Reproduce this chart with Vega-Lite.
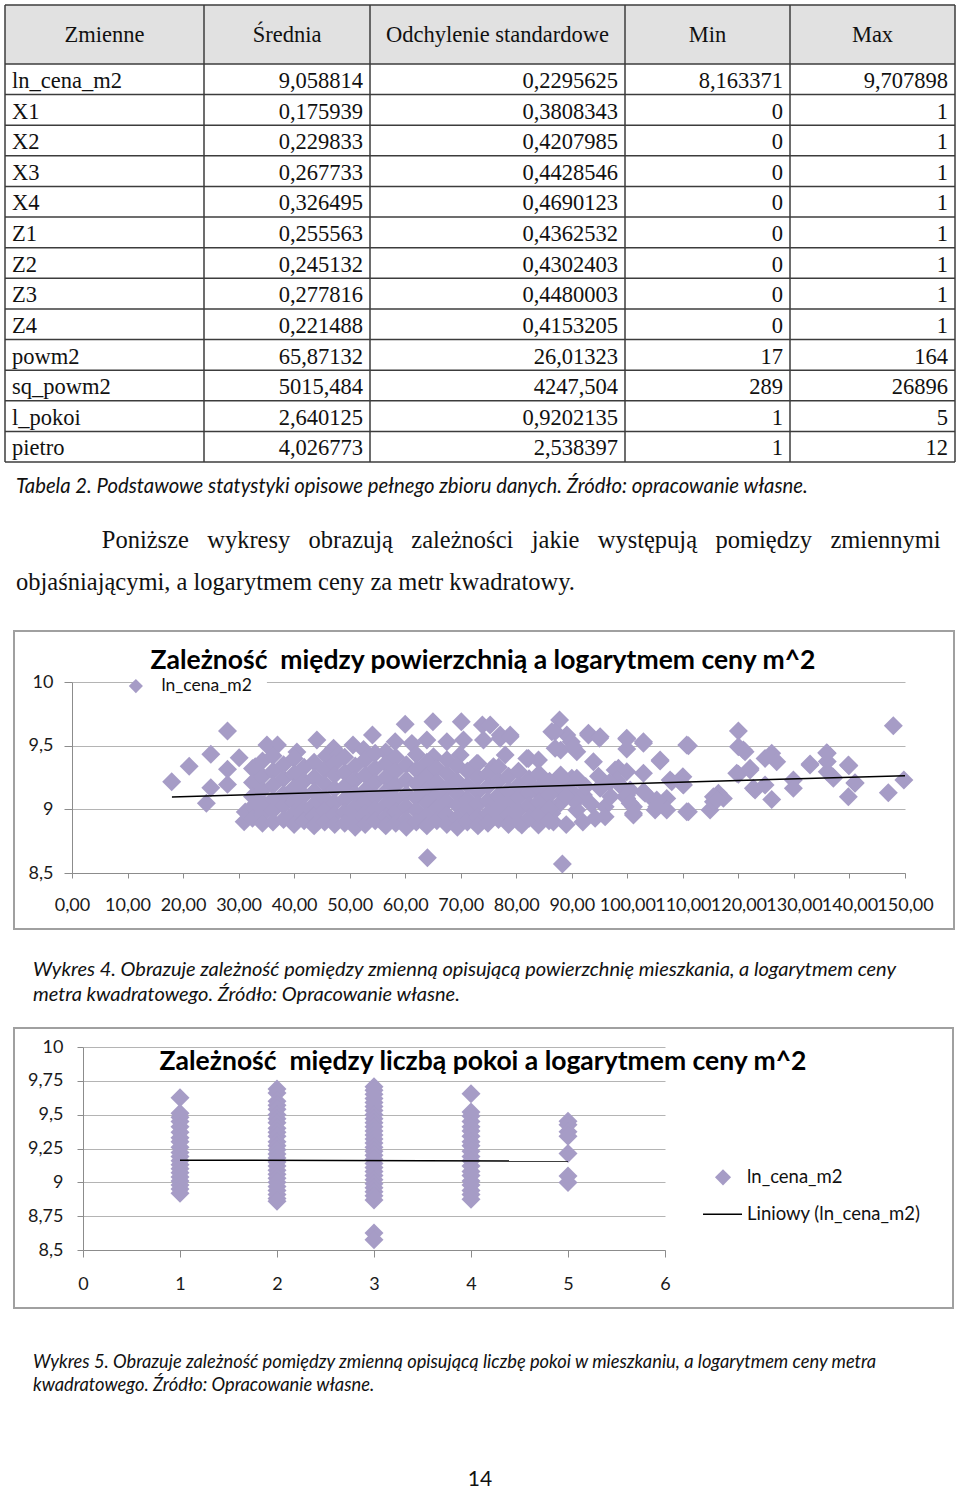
{
  "$schema": "https://vega.github.io/schema/vega-lite/v6.json",
  "background": "white",
  "padding": {"left": 4, "top": 4, "right": 0, "bottom": 0},
  "autosize": {"type": "pad"},
  "bounds": "flush",
  "spacing": 99,
  "config": {"view": {"stroke": null}},
  "datasets": {
    "cells": [
      {"row": 0, "col": 1, "t": "Zmienne"}, {"row": 0, "col": 2, "t": "Średnia"}, {"row": 0, "col": 3, "t": "Odchylenie standardowe"}, {"row": 0, "col": 4, "t": "Min"}, {"row": 0, "col": 5, "t": "Max"},
      {"row": 1, "col": 1, "t": "ln_cena_m2"}, {"row": 1, "col": 2, "t": "9,058814"}, {"row": 1, "col": 3, "t": "0,2295625"}, {"row": 1, "col": 4, "t": "8,163371"}, {"row": 1, "col": 5, "t": "9,707898"},
      {"row": 2, "col": 1, "t": "X1"}, {"row": 2, "col": 2, "t": "0,175939"}, {"row": 2, "col": 3, "t": "0,3808343"}, {"row": 2, "col": 4, "t": "0"}, {"row": 2, "col": 5, "t": "1"},
      {"row": 3, "col": 1, "t": "X2"}, {"row": 3, "col": 2, "t": "0,229833"}, {"row": 3, "col": 3, "t": "0,4207985"}, {"row": 3, "col": 4, "t": "0"}, {"row": 3, "col": 5, "t": "1"},
      {"row": 4, "col": 1, "t": "X3"}, {"row": 4, "col": 2, "t": "0,267733"}, {"row": 4, "col": 3, "t": "0,4428546"}, {"row": 4, "col": 4, "t": "0"}, {"row": 4, "col": 5, "t": "1"},
      {"row": 5, "col": 1, "t": "X4"}, {"row": 5, "col": 2, "t": "0,326495"}, {"row": 5, "col": 3, "t": "0,4690123"}, {"row": 5, "col": 4, "t": "0"}, {"row": 5, "col": 5, "t": "1"},
      {"row": 6, "col": 1, "t": "Z1"}, {"row": 6, "col": 2, "t": "0,255563"}, {"row": 6, "col": 3, "t": "0,4362532"}, {"row": 6, "col": 4, "t": "0"}, {"row": 6, "col": 5, "t": "1"},
      {"row": 7, "col": 1, "t": "Z2"}, {"row": 7, "col": 2, "t": "0,245132"}, {"row": 7, "col": 3, "t": "0,4302403"}, {"row": 7, "col": 4, "t": "0"}, {"row": 7, "col": 5, "t": "1"},
      {"row": 8, "col": 1, "t": "Z3"}, {"row": 8, "col": 2, "t": "0,277816"}, {"row": 8, "col": 3, "t": "0,4480003"}, {"row": 8, "col": 4, "t": "0"}, {"row": 8, "col": 5, "t": "1"},
      {"row": 9, "col": 1, "t": "Z4"}, {"row": 9, "col": 2, "t": "0,221488"}, {"row": 9, "col": 3, "t": "0,4153205"}, {"row": 9, "col": 4, "t": "0"}, {"row": 9, "col": 5, "t": "1"},
      {"row": 10, "col": 1, "t": "powm2"}, {"row": 10, "col": 2, "t": "65,87132"}, {"row": 10, "col": 3, "t": "26,01323"}, {"row": 10, "col": 4, "t": "17"}, {"row": 10, "col": 5, "t": "164"},
      {"row": 11, "col": 1, "t": "sq_powm2"}, {"row": 11, "col": 2, "t": "5015,484"}, {"row": 11, "col": 3, "t": "4247,504"}, {"row": 11, "col": 4, "t": "289"}, {"row": 11, "col": 5, "t": "26896"},
      {"row": 12, "col": 1, "t": "l_pokoi"}, {"row": 12, "col": 2, "t": "2,640125"}, {"row": 12, "col": 3, "t": "0,9202135"}, {"row": 12, "col": 4, "t": "1"}, {"row": 12, "col": 5, "t": "5"},
      {"row": 13, "col": 1, "t": "pietro"}, {"row": 13, "col": 2, "t": "4,026773"}, {"row": 13, "col": 3, "t": "2,538397"}, {"row": 13, "col": 4, "t": "1"}, {"row": 13, "col": 5, "t": "12"}
    ],
    "chart1": [
      {"powm2": 17.95, "ln_cena_m2": 9.217}, {"powm2": 21.1, "ln_cena_m2": 9.338}, {"powm2": 28, "ln_cena_m2": 9.615}, {"powm2": 25, "ln_cena_m2": 9.432}, {"powm2": 25, "ln_cena_m2": 9.17}, {"powm2": 24.2, "ln_cena_m2": 9.047}, {"powm2": 28, "ln_cena_m2": 9.314}, {"powm2": 28, "ln_cena_m2": 9.196}, {"powm2": 30.1, "ln_cena_m2": 9.405}, {"powm2": 31, "ln_cena_m2": 8.903}, {"powm2": 31.2, "ln_cena_m2": 8.98}, {"powm2": 33, "ln_cena_m2": 9.335}, {"powm2": 35.1, "ln_cena_m2": 9.505}, {"powm2": 37, "ln_cena_m2": 9.505}, {"powm2": 44.1, "ln_cena_m2": 9.544}, {"powm2": 47.1, "ln_cena_m2": 9.479}, {"powm2": 50.6, "ln_cena_m2": 9.505}, {"powm2": 54.1, "ln_cena_m2": 9.584}, {"powm2": 60, "ln_cena_m2": 9.668}, {"powm2": 65, "ln_cena_m2": 9.688}, {"powm2": 58.2, "ln_cena_m2": 9.531}, {"powm2": 70.1, "ln_cena_m2": 9.688}, {"powm2": 63.9, "ln_cena_m2": 9.544}, {"powm2": 64, "ln_cena_m2": 8.62}, {"powm2": 73.9, "ln_cena_m2": 9.662}, {"powm2": 77.1, "ln_cena_m2": 9.584}, {"powm2": 78.9, "ln_cena_m2": 9.584}, {"powm2": 86.4, "ln_cena_m2": 9.61}, {"powm2": 61.2, "ln_cena_m2": 9.518}, {"powm2": 67.5, "ln_cena_m2": 9.531}, {"powm2": 70.5, "ln_cena_m2": 9.544}, {"powm2": 74.1, "ln_cena_m2": 9.544}, {"powm2": 65.1, "ln_cena_m2": 9.413}, {"powm2": 69.9, "ln_cena_m2": 9.427}, {"powm2": 72.9, "ln_cena_m2": 9.361}, {"powm2": 75.9, "ln_cena_m2": 9.335}, {"powm2": 78, "ln_cena_m2": 9.427}, {"powm2": 82.2, "ln_cena_m2": 9.4}, {"powm2": 84, "ln_cena_m2": 9.387}, {"powm2": 75.3, "ln_cena_m2": 9.662}, {"powm2": 77.1, "ln_cena_m2": 9.558}, {"powm2": 78.9, "ln_cena_m2": 9.57}, {"powm2": 81.9, "ln_cena_m2": 9.4}, {"powm2": 88.3, "ln_cena_m2": 8.57}, {"powm2": 87.8, "ln_cena_m2": 9.701}, {"powm2": 89.1, "ln_cena_m2": 9.584}, {"powm2": 89.9, "ln_cena_m2": 9.53}, {"powm2": 90.9, "ln_cena_m2": 9.452}, {"powm2": 88, "ln_cena_m2": 9.465}, {"powm2": 88, "ln_cena_m2": 9.27}, {"powm2": 90, "ln_cena_m2": 9.244}, {"powm2": 91.5, "ln_cena_m2": 9.099}, {"powm2": 90.9, "ln_cena_m2": 8.995}, {"powm2": 87.9, "ln_cena_m2": 9.047}, {"powm2": 84, "ln_cena_m2": 8.877}, {"powm2": 84, "ln_cena_m2": 8.99}, {"powm2": 81, "ln_cena_m2": 8.877}, {"powm2": 93, "ln_cena_m2": 9.584}, {"powm2": 95, "ln_cena_m2": 9.558}, {"powm2": 93.9, "ln_cena_m2": 9.374}, {"powm2": 95.1, "ln_cena_m2": 9.165}, {"powm2": 96, "ln_cena_m2": 9.02}, {"powm2": 96, "ln_cena_m2": 8.942}, {"powm2": 99.9, "ln_cena_m2": 9.552}, {"powm2": 99.9, "ln_cena_m2": 9.474}, {"powm2": 98.4, "ln_cena_m2": 9.322}, {"powm2": 98.7, "ln_cena_m2": 9.19}, {"powm2": 99.9, "ln_cena_m2": 9.086}, {"powm2": 101.1, "ln_cena_m2": 9.02}, {"powm2": 101.1, "ln_cena_m2": 8.955}, {"powm2": 102.9, "ln_cena_m2": 9.518}, {"powm2": 102.9, "ln_cena_m2": 9.283}, {"powm2": 102.9, "ln_cena_m2": 9.139}, {"powm2": 105.9, "ln_cena_m2": 9.379}, {"powm2": 105, "ln_cena_m2": 9.06}, {"powm2": 105, "ln_cena_m2": 8.995}, {"powm2": 107.1, "ln_cena_m2": 9.086}, {"powm2": 107.1, "ln_cena_m2": 8.995}, {"powm2": 108, "ln_cena_m2": 9.217}, {"powm2": 110, "ln_cena_m2": 9.256}, {"powm2": 110, "ln_cena_m2": 9.196}, {"powm2": 111, "ln_cena_m2": 9.5}, {"powm2": 111, "ln_cena_m2": 8.981}, {"powm2": 114.9, "ln_cena_m2": 8.994}, {"powm2": 115.5, "ln_cena_m2": 9.06}, {"powm2": 116.4, "ln_cena_m2": 9.126}, {"powm2": 117.3, "ln_cena_m2": 9.086}, {"powm2": 120, "ln_cena_m2": 9.615}, {"powm2": 120, "ln_cena_m2": 9.275}, {"powm2": 120.9, "ln_cena_m2": 9.466}, {"powm2": 122.1, "ln_cena_m2": 9.322}, {"powm2": 123, "ln_cena_m2": 9.152}, {"powm2": 124.8, "ln_cena_m2": 9.4}, {"powm2": 126, "ln_cena_m2": 9.44}, {"powm2": 126.9, "ln_cena_m2": 9.374}, {"powm2": 126, "ln_cena_m2": 9.078}, {"powm2": 129.9, "ln_cena_m2": 9.23}, {"powm2": 129.9, "ln_cena_m2": 9.165}, {"powm2": 132.9, "ln_cena_m2": 9.348}, {"powm2": 136, "ln_cena_m2": 9.44}, {"powm2": 136, "ln_cena_m2": 9.375}, {"powm2": 136, "ln_cena_m2": 9.295}, {"powm2": 137.1, "ln_cena_m2": 9.244}, {"powm2": 139.8, "ln_cena_m2": 9.348}, {"powm2": 141, "ln_cena_m2": 9.204}, {"powm2": 139.8, "ln_cena_m2": 9.099}, {"powm2": 147, "ln_cena_m2": 9.13}, {"powm2": 147.9, "ln_cena_m2": 9.657}, {"powm2": 149.8, "ln_cena_m2": 9.23},
      {"powm2": 87, "ln_cena_m2": 9.61}, {"powm2": 87, "ln_cena_m2": 9.479}, {"powm2": 90.3, "ln_cena_m2": 9.492}, {"powm2": 93, "ln_cena_m2": 9.597}, {"powm2": 95.1, "ln_cena_m2": 9.57}, {"powm2": 99.9, "ln_cena_m2": 9.558}, {"powm2": 102.9, "ln_cena_m2": 9.531}, {"powm2": 105.9, "ln_cena_m2": 9.387}, {"powm2": 110.7, "ln_cena_m2": 9.505}, {"powm2": 120, "ln_cena_m2": 9.492}, {"powm2": 121.2, "ln_cena_m2": 9.452}, {"powm2": 97.8, "ln_cena_m2": 9.309}, {"powm2": 99.9, "ln_cena_m2": 9.296}, {"powm2": 98.1, "ln_cena_m2": 9.23}, {"powm2": 99, "ln_cena_m2": 9.178}, {"powm2": 100.5, "ln_cena_m2": 9.152}, {"powm2": 95.1, "ln_cena_m2": 9.178}, {"powm2": 90.9, "ln_cena_m2": 9.244}, {"powm2": 88.5, "ln_cena_m2": 9.23}, {"powm2": 87.3, "ln_cena_m2": 9.165}, {"powm2": 89.7, "ln_cena_m2": 9.152}, {"powm2": 92.1, "ln_cena_m2": 9.112}, {"powm2": 90.3, "ln_cena_m2": 9.073}, {"powm2": 86.4, "ln_cena_m2": 8.969}, {"powm2": 99.9, "ln_cena_m2": 9.112}, {"powm2": 100.5, "ln_cena_m2": 9.047}, {"powm2": 101.1, "ln_cena_m2": 8.969}, {"powm2": 103.2, "ln_cena_m2": 9.126}, {"powm2": 105.3, "ln_cena_m2": 9.073}, {"powm2": 105.3, "ln_cena_m2": 9.02}, {"powm2": 107.7, "ln_cena_m2": 9.23}, {"powm2": 110.1, "ln_cena_m2": 9.191}, {"powm2": 110.7, "ln_cena_m2": 8.981}, {"powm2": 115.5, "ln_cena_m2": 9.099}, {"powm2": 116.1, "ln_cena_m2": 9.073}, {"powm2": 119.7, "ln_cena_m2": 9.283}, {"powm2": 122.1, "ln_cena_m2": 9.309}, {"powm2": 122.7, "ln_cena_m2": 9.165}, {"powm2": 124.8, "ln_cena_m2": 9.191}, {"powm2": 132.9, "ln_cena_m2": 9.356}, {"powm2": 135.9, "ln_cena_m2": 9.445}, {"powm2": 137, "ln_cena_m2": 9.256}, {"powm2": 139.9, "ln_cena_m2": 9.343}, {"powm2": 141, "ln_cena_m2": 9.209},
      {"powm2": 83.5, "ln_cena_m2": 9.15}, {"powm2": 85.5, "ln_cena_m2": 9.05}, {"powm2": 86, "ln_cena_m2": 9.22}, {"powm2": 88.8, "ln_cena_m2": 9.1}, {"powm2": 92.5, "ln_cena_m2": 9.18}, {"powm2": 93.5, "ln_cena_m2": 9.04}, {"powm2": 94.2, "ln_cena_m2": 8.93}, {"powm2": 92, "ln_cena_m2": 8.9}, {"powm2": 89, "ln_cena_m2": 8.88}, {"powm2": 86.7, "ln_cena_m2": 8.9}, {"powm2": 94.8, "ln_cena_m2": 9.26}, {"powm2": 97, "ln_cena_m2": 9.1}, {"powm2": 96.8, "ln_cena_m2": 9.21},
      {"powm2": 40.5, "ln_cena_m2": 9.45}, {"powm2": 45.8, "ln_cena_m2": 9.42}, {"powm2": 52.5, "ln_cena_m2": 9.47}, {"powm2": 56.5, "ln_cena_m2": 9.45}, {"powm2": 48, "ln_cena_m2": 9.43},
      {"powm2": 32.5, "ln_cena_m2": 9.32}, {"powm2": 32.5, "ln_cena_m2": 9.21}, {"powm2": 32.5, "ln_cena_m2": 9.1}, {"powm2": 32.5, "ln_cena_m2": 9.02}, {"powm2": 32.5, "ln_cena_m2": 8.93},
      {"powm2": 34.3, "ln_cena_m2": 9.38}, {"powm2": 34.3, "ln_cena_m2": 9.26}, {"powm2": 34.3, "ln_cena_m2": 9.15}, {"powm2": 34.3, "ln_cena_m2": 9.05}, {"powm2": 34.3, "ln_cena_m2": 8.96}, {"powm2": 34.3, "ln_cena_m2": 8.89},
      {"powm2": 36.2, "ln_cena_m2": 9.42}, {"powm2": 36.2, "ln_cena_m2": 9.3}, {"powm2": 36.2, "ln_cena_m2": 9.19}, {"powm2": 36.2, "ln_cena_m2": 9.08}, {"powm2": 36.2, "ln_cena_m2": 8.99}, {"powm2": 36.2, "ln_cena_m2": 8.9},
      {"powm2": 38.1, "ln_cena_m2": 9.35}, {"powm2": 38.1, "ln_cena_m2": 9.24}, {"powm2": 38.1, "ln_cena_m2": 9.12}, {"powm2": 38.1, "ln_cena_m2": 9.03}, {"powm2": 38.1, "ln_cena_m2": 8.92},
      {"powm2": 40, "ln_cena_m2": 9.4}, {"powm2": 40, "ln_cena_m2": 9.28}, {"powm2": 40, "ln_cena_m2": 9.17}, {"powm2": 40, "ln_cena_m2": 9.06}, {"powm2": 40, "ln_cena_m2": 8.97}, {"powm2": 40, "ln_cena_m2": 8.88},
      {"powm2": 41.8, "ln_cena_m2": 9.33}, {"powm2": 41.8, "ln_cena_m2": 9.22}, {"powm2": 41.8, "ln_cena_m2": 9.11}, {"powm2": 41.8, "ln_cena_m2": 9}, {"powm2": 41.8, "ln_cena_m2": 8.91},
      {"powm2": 43.6, "ln_cena_m2": 9.37}, {"powm2": 43.6, "ln_cena_m2": 9.25}, {"powm2": 43.6, "ln_cena_m2": 9.14}, {"powm2": 43.6, "ln_cena_m2": 9.04}, {"powm2": 43.6, "ln_cena_m2": 8.95}, {"powm2": 43.6, "ln_cena_m2": 8.87},
      {"powm2": 45.5, "ln_cena_m2": 9.31}, {"powm2": 45.5, "ln_cena_m2": 9.2}, {"powm2": 45.5, "ln_cena_m2": 9.09}, {"powm2": 45.5, "ln_cena_m2": 8.99}, {"powm2": 45.5, "ln_cena_m2": 8.9},
      {"powm2": 47.3, "ln_cena_m2": 9.36}, {"powm2": 47.3, "ln_cena_m2": 9.27}, {"powm2": 47.3, "ln_cena_m2": 9.16}, {"powm2": 47.3, "ln_cena_m2": 9.05}, {"powm2": 47.3, "ln_cena_m2": 8.96}, {"powm2": 47.3, "ln_cena_m2": 8.88},
      {"powm2": 49.1, "ln_cena_m2": 9.41}, {"powm2": 49.1, "ln_cena_m2": 9.29}, {"powm2": 49.1, "ln_cena_m2": 9.18}, {"powm2": 49.1, "ln_cena_m2": 9.08}, {"powm2": 49.1, "ln_cena_m2": 8.98}, {"powm2": 49.1, "ln_cena_m2": 8.89},
      {"powm2": 51, "ln_cena_m2": 9.34}, {"powm2": 51, "ln_cena_m2": 9.23}, {"powm2": 51, "ln_cena_m2": 9.12}, {"powm2": 51, "ln_cena_m2": 9.02}, {"powm2": 51, "ln_cena_m2": 8.93}, {"powm2": 51, "ln_cena_m2": 8.86},
      {"powm2": 52.8, "ln_cena_m2": 9.39}, {"powm2": 52.8, "ln_cena_m2": 9.27}, {"powm2": 52.8, "ln_cena_m2": 9.15}, {"powm2": 52.8, "ln_cena_m2": 9.06}, {"powm2": 52.8, "ln_cena_m2": 8.97}, {"powm2": 52.8, "ln_cena_m2": 8.88},
      {"powm2": 54.6, "ln_cena_m2": 9.44}, {"powm2": 54.6, "ln_cena_m2": 9.32}, {"powm2": 54.6, "ln_cena_m2": 9.21}, {"powm2": 54.6, "ln_cena_m2": 9.1}, {"powm2": 54.6, "ln_cena_m2": 9}, {"powm2": 54.6, "ln_cena_m2": 8.91},
      {"powm2": 56.5, "ln_cena_m2": 9.36}, {"powm2": 56.5, "ln_cena_m2": 9.25}, {"powm2": 56.5, "ln_cena_m2": 9.14}, {"powm2": 56.5, "ln_cena_m2": 9.04}, {"powm2": 56.5, "ln_cena_m2": 8.94}, {"powm2": 56.5, "ln_cena_m2": 8.87},
      {"powm2": 58.3, "ln_cena_m2": 9.41}, {"powm2": 58.3, "ln_cena_m2": 9.3}, {"powm2": 58.3, "ln_cena_m2": 9.19}, {"powm2": 58.3, "ln_cena_m2": 9.08}, {"powm2": 58.3, "ln_cena_m2": 8.98}, {"powm2": 58.3, "ln_cena_m2": 8.89},
      {"powm2": 60.2, "ln_cena_m2": 9.35}, {"powm2": 60.2, "ln_cena_m2": 9.23}, {"powm2": 60.2, "ln_cena_m2": 9.12}, {"powm2": 60.2, "ln_cena_m2": 9.02}, {"powm2": 60.2, "ln_cena_m2": 8.92}, {"powm2": 60.2, "ln_cena_m2": 8.86},
      {"powm2": 62, "ln_cena_m2": 9.43}, {"powm2": 62, "ln_cena_m2": 9.31}, {"powm2": 62, "ln_cena_m2": 9.2}, {"powm2": 62, "ln_cena_m2": 9.09}, {"powm2": 62, "ln_cena_m2": 8.99}, {"powm2": 62, "ln_cena_m2": 8.9},
      {"powm2": 63.9, "ln_cena_m2": 9.37}, {"powm2": 63.9, "ln_cena_m2": 9.26}, {"powm2": 63.9, "ln_cena_m2": 9.15}, {"powm2": 63.9, "ln_cena_m2": 9.05}, {"powm2": 63.9, "ln_cena_m2": 8.95}, {"powm2": 63.9, "ln_cena_m2": 8.87},
      {"powm2": 65.7, "ln_cena_m2": 9.32}, {"powm2": 65.7, "ln_cena_m2": 9.21}, {"powm2": 65.7, "ln_cena_m2": 9.11}, {"powm2": 65.7, "ln_cena_m2": 9.01}, {"powm2": 65.7, "ln_cena_m2": 8.91},
      {"powm2": 67.5, "ln_cena_m2": 9.39}, {"powm2": 67.5, "ln_cena_m2": 9.28}, {"powm2": 67.5, "ln_cena_m2": 9.17}, {"powm2": 67.5, "ln_cena_m2": 9.06}, {"powm2": 67.5, "ln_cena_m2": 8.96}, {"powm2": 67.5, "ln_cena_m2": 8.88},
      {"powm2": 69.4, "ln_cena_m2": 9.34}, {"powm2": 69.4, "ln_cena_m2": 9.22}, {"powm2": 69.4, "ln_cena_m2": 9.12}, {"powm2": 69.4, "ln_cena_m2": 9.03}, {"powm2": 69.4, "ln_cena_m2": 8.93}, {"powm2": 69.4, "ln_cena_m2": 8.86},
      {"powm2": 71.2, "ln_cena_m2": 9.3}, {"powm2": 71.2, "ln_cena_m2": 9.19}, {"powm2": 71.2, "ln_cena_m2": 9.08}, {"powm2": 71.2, "ln_cena_m2": 8.99}, {"powm2": 71.2, "ln_cena_m2": 8.9},
      {"powm2": 73.1, "ln_cena_m2": 9.36}, {"powm2": 73.1, "ln_cena_m2": 9.25}, {"powm2": 73.1, "ln_cena_m2": 9.14}, {"powm2": 73.1, "ln_cena_m2": 9.04}, {"powm2": 73.1, "ln_cena_m2": 8.94}, {"powm2": 73.1, "ln_cena_m2": 8.87},
      {"powm2": 74.9, "ln_cena_m2": 9.28}, {"powm2": 74.9, "ln_cena_m2": 9.18}, {"powm2": 74.9, "ln_cena_m2": 9.07}, {"powm2": 74.9, "ln_cena_m2": 8.97}, {"powm2": 74.9, "ln_cena_m2": 8.89},
      {"powm2": 76.8, "ln_cena_m2": 9.33}, {"powm2": 76.8, "ln_cena_m2": 9.22}, {"powm2": 76.8, "ln_cena_m2": 9.11}, {"powm2": 76.8, "ln_cena_m2": 9.01}, {"powm2": 76.8, "ln_cena_m2": 8.92},
      {"powm2": 78.6, "ln_cena_m2": 9.26}, {"powm2": 78.6, "ln_cena_m2": 9.15}, {"powm2": 78.6, "ln_cena_m2": 9.05}, {"powm2": 78.6, "ln_cena_m2": 8.95}, {"powm2": 78.6, "ln_cena_m2": 8.88},
      {"powm2": 80.4, "ln_cena_m2": 9.3}, {"powm2": 80.4, "ln_cena_m2": 9.19}, {"powm2": 80.4, "ln_cena_m2": 9.09}, {"powm2": 80.4, "ln_cena_m2": 8.99}, {"powm2": 80.4, "ln_cena_m2": 8.9},
      {"powm2": 82.3, "ln_cena_m2": 9.24}, {"powm2": 82.3, "ln_cena_m2": 9.13}, {"powm2": 82.3, "ln_cena_m2": 9.03}, {"powm2": 82.3, "ln_cena_m2": 8.93},
      {"powm2": 84.1, "ln_cena_m2": 9.28}, {"powm2": 84.1, "ln_cena_m2": 9.17}, {"powm2": 84.1, "ln_cena_m2": 9.06}, {"powm2": 84.1, "ln_cena_m2": 8.96},
      {"powm2": 85.9, "ln_cena_m2": 9.21}, {"powm2": 85.9, "ln_cena_m2": 9.11}, {"powm2": 85.9, "ln_cena_m2": 9}, {"powm2": 85.9, "ln_cena_m2": 8.91}
    ],
    "trend1": [{"powm2": 18, "ln_cena_m2": 9.097}, {"powm2": 150, "ln_cena_m2": 9.264}],
    "chart2": [
      {"l_pokoi": 1, "ln_cena_m2": 9.625}, {"l_pokoi": 1, "ln_cena_m2": 9.51}, {"l_pokoi": 1, "ln_cena_m2": 9.48}, {"l_pokoi": 1, "ln_cena_m2": 9.45}, {"l_pokoi": 1, "ln_cena_m2": 9.41}, {"l_pokoi": 1, "ln_cena_m2": 9.37}, {"l_pokoi": 1, "ln_cena_m2": 9.33}, {"l_pokoi": 1, "ln_cena_m2": 9.3}, {"l_pokoi": 1, "ln_cena_m2": 9.26}, {"l_pokoi": 1, "ln_cena_m2": 9.22}, {"l_pokoi": 1, "ln_cena_m2": 9.19}, {"l_pokoi": 1, "ln_cena_m2": 9.16}, {"l_pokoi": 1, "ln_cena_m2": 9.13}, {"l_pokoi": 1, "ln_cena_m2": 9.1}, {"l_pokoi": 1, "ln_cena_m2": 9.07}, {"l_pokoi": 1, "ln_cena_m2": 9.04}, {"l_pokoi": 1, "ln_cena_m2": 9.01}, {"l_pokoi": 1, "ln_cena_m2": 8.98}, {"l_pokoi": 1, "ln_cena_m2": 8.95}, {"l_pokoi": 1, "ln_cena_m2": 8.92},
      {"l_pokoi": 2, "ln_cena_m2": 9.69}, {"l_pokoi": 2, "ln_cena_m2": 9.66}, {"l_pokoi": 2, "ln_cena_m2": 9.6}, {"l_pokoi": 2, "ln_cena_m2": 9.57}, {"l_pokoi": 2, "ln_cena_m2": 9.54}, {"l_pokoi": 2, "ln_cena_m2": 9.5}, {"l_pokoi": 2, "ln_cena_m2": 9.47}, {"l_pokoi": 2, "ln_cena_m2": 9.44}, {"l_pokoi": 2, "ln_cena_m2": 9.4}, {"l_pokoi": 2, "ln_cena_m2": 9.37}, {"l_pokoi": 2, "ln_cena_m2": 9.34}, {"l_pokoi": 2, "ln_cena_m2": 9.3}, {"l_pokoi": 2, "ln_cena_m2": 9.27}, {"l_pokoi": 2, "ln_cena_m2": 9.24}, {"l_pokoi": 2, "ln_cena_m2": 9.21}, {"l_pokoi": 2, "ln_cena_m2": 9.18}, {"l_pokoi": 2, "ln_cena_m2": 9.15}, {"l_pokoi": 2, "ln_cena_m2": 9.12}, {"l_pokoi": 2, "ln_cena_m2": 9.09}, {"l_pokoi": 2, "ln_cena_m2": 9.06}, {"l_pokoi": 2, "ln_cena_m2": 9.03}, {"l_pokoi": 2, "ln_cena_m2": 9}, {"l_pokoi": 2, "ln_cena_m2": 8.97}, {"l_pokoi": 2, "ln_cena_m2": 8.94}, {"l_pokoi": 2, "ln_cena_m2": 8.91}, {"l_pokoi": 2, "ln_cena_m2": 8.88}, {"l_pokoi": 2, "ln_cena_m2": 8.86},
      {"l_pokoi": 3, "ln_cena_m2": 9.706}, {"l_pokoi": 3, "ln_cena_m2": 9.68}, {"l_pokoi": 3, "ln_cena_m2": 9.65}, {"l_pokoi": 3, "ln_cena_m2": 9.62}, {"l_pokoi": 3, "ln_cena_m2": 9.59}, {"l_pokoi": 3, "ln_cena_m2": 9.56}, {"l_pokoi": 3, "ln_cena_m2": 9.53}, {"l_pokoi": 3, "ln_cena_m2": 9.5}, {"l_pokoi": 3, "ln_cena_m2": 9.47}, {"l_pokoi": 3, "ln_cena_m2": 9.44}, {"l_pokoi": 3, "ln_cena_m2": 9.41}, {"l_pokoi": 3, "ln_cena_m2": 9.38}, {"l_pokoi": 3, "ln_cena_m2": 9.35}, {"l_pokoi": 3, "ln_cena_m2": 9.32}, {"l_pokoi": 3, "ln_cena_m2": 9.29}, {"l_pokoi": 3, "ln_cena_m2": 9.26}, {"l_pokoi": 3, "ln_cena_m2": 9.23}, {"l_pokoi": 3, "ln_cena_m2": 9.2}, {"l_pokoi": 3, "ln_cena_m2": 9.17}, {"l_pokoi": 3, "ln_cena_m2": 9.14}, {"l_pokoi": 3, "ln_cena_m2": 9.11}, {"l_pokoi": 3, "ln_cena_m2": 9.08}, {"l_pokoi": 3, "ln_cena_m2": 9.05}, {"l_pokoi": 3, "ln_cena_m2": 9.02}, {"l_pokoi": 3, "ln_cena_m2": 8.99}, {"l_pokoi": 3, "ln_cena_m2": 8.96}, {"l_pokoi": 3, "ln_cena_m2": 8.93}, {"l_pokoi": 3, "ln_cena_m2": 8.9}, {"l_pokoi": 3, "ln_cena_m2": 8.87}, {"l_pokoi": 3, "ln_cena_m2": 8.625}, {"l_pokoi": 3, "ln_cena_m2": 8.575},
      {"l_pokoi": 4, "ln_cena_m2": 9.654}, {"l_pokoi": 4, "ln_cena_m2": 9.52}, {"l_pokoi": 4, "ln_cena_m2": 9.49}, {"l_pokoi": 4, "ln_cena_m2": 9.45}, {"l_pokoi": 4, "ln_cena_m2": 9.41}, {"l_pokoi": 4, "ln_cena_m2": 9.38}, {"l_pokoi": 4, "ln_cena_m2": 9.34}, {"l_pokoi": 4, "ln_cena_m2": 9.3}, {"l_pokoi": 4, "ln_cena_m2": 9.27}, {"l_pokoi": 4, "ln_cena_m2": 9.23}, {"l_pokoi": 4, "ln_cena_m2": 9.19}, {"l_pokoi": 4, "ln_cena_m2": 9.16}, {"l_pokoi": 4, "ln_cena_m2": 9.12}, {"l_pokoi": 4, "ln_cena_m2": 9.08}, {"l_pokoi": 4, "ln_cena_m2": 9.05}, {"l_pokoi": 4, "ln_cena_m2": 9.01}, {"l_pokoi": 4, "ln_cena_m2": 8.98}, {"l_pokoi": 4, "ln_cena_m2": 8.94}, {"l_pokoi": 4, "ln_cena_m2": 8.91}, {"l_pokoi": 4, "ln_cena_m2": 8.875},
      {"l_pokoi": 5, "ln_cena_m2": 9.451}, {"l_pokoi": 5, "ln_cena_m2": 9.426}, {"l_pokoi": 5, "ln_cena_m2": 9.373}, {"l_pokoi": 5, "ln_cena_m2": 9.34}, {"l_pokoi": 5, "ln_cena_m2": 9.213}, {"l_pokoi": 5, "ln_cena_m2": 9.046}, {"l_pokoi": 5, "ln_cena_m2": 8.998}
    ],
    "trend2": [{"l_pokoi": 1, "ln_cena_m2": 9.164}, {"l_pokoi": 5, "ln_cena_m2": 9.157}]
  },
  "vconcat": [
    {
      "width": 940,
      "height": 527,
      "title": {
        "text": "Tabela 2. Podstawowe statystyki opisowe pełnego zbioru danych. Źródło: opracowanie własne.",
        "subtitle": ["\u200b\u00a0\u00a0\u00a0\u00a0\u00a0\u00a0\u00a0\u00a0\u00a0\u00a0\u00a0\u00a0\u00a0\u00a0Poniższe\u00a0\u00a0\u00a0wykresy\u00a0\u00a0\u00a0obrazują\u00a0\u00a0\u00a0zależności\u00a0\u00a0\u00a0jakie\u00a0\u00a0\u00a0występują\u00a0\u00a0\u00a0pomiędzy\u00a0\u00a0\u00a0zmiennymi", "objaśniającymi, a logarytmem ceny za metr kwadratowy."],
        "orient": "bottom", "anchor": "start", "frame": "group", "offset": -55, "dx": 2,
        "font": "Lato", "fontStyle": "italic", "fontWeight": "normal", "fontSize": 20.3, "color": "#111111",
        "subtitleFont": "Liberation Serif", "subtitleFontSize": 24.5, "subtitleColor": "#111111", "subtitleLineHeight": 42, "subtitlePadding": 32
      },
      "resolve": {"scale": {"x": "independent"}},
      "layer": [
        {
          "data": {"values": [{}]},
          "mark": {"type": "rect", "fill": "#e1e1e1"},
          "encoding": {
            "x": {"datum": 0, "type": "quantitative", "scale": {"domain": [0, 1, 2, 3, 4, 5], "range": [-9, 190, 356, 611, 776, 941], "nice": false, "zero": false}, "axis": null},
            "x2": {"datum": 5},
            "y": {"datum": 0, "type": "quantitative", "scale": {"domain": [0, 1, 14], "range": [0, 59, 457], "nice": false, "zero": false}, "axis": null},
            "y2": {"datum": 1}
          }
        },
        {
          "data": {"values": [{"e": 0}, {"e": 1}, {"e": 2}, {"e": 3}, {"e": 4}, {"e": 5}]},
          "mark": {"type": "rule", "stroke": "#3c3c3c", "strokeWidth": 1.5},
          "encoding": {
            "x": {"field": "e", "type": "quantitative", "scale": {"domain": [0, 1, 2, 3, 4, 5], "range": [-9, 190, 356, 611, 776, 941], "nice": false, "zero": false}, "axis": null},
            "y": {"datum": 0, "type": "quantitative", "scale": {"domain": [0, 1, 14], "range": [0, 59, 457], "nice": false, "zero": false}, "axis": null},
            "y2": {"datum": 14}
          }
        },
        {
          "data": {"values": [{"e": 0}, {"e": 1}, {"e": 2}, {"e": 3}, {"e": 4}, {"e": 5}, {"e": 6}, {"e": 7}, {"e": 8}, {"e": 9}, {"e": 10}, {"e": 11}, {"e": 12}, {"e": 13}, {"e": 14}]},
          "mark": {"type": "rule", "stroke": "#3c3c3c", "strokeWidth": 1.5},
          "encoding": {
            "x": {"datum": 0, "type": "quantitative", "scale": {"domain": [0, 1, 2, 3, 4, 5], "range": [-9, 190, 356, 611, 776, 941], "nice": false, "zero": false}, "axis": null},
            "x2": {"datum": 5},
            "y": {"field": "e", "type": "quantitative", "scale": {"domain": [0, 1, 14], "range": [0, 59, 457], "nice": false, "zero": false}, "axis": null}
          }
        },
        {
          "data": {"name": "cells"},
          "transform": [{"filter": "datum.row == 0"}],
          "mark": {"type": "text", "font": "Liberation Serif", "fontSize": 22.5, "color": "#111111", "align": "center", "baseline": "middle", "dy": 30},
          "encoding": {
            "x": {"field": "col", "type": "quantitative", "scale": {"domain": [1, 2, 3, 4, 5], "range": [90.5, 273, 483.5, 693.5, 858.5], "nice": false, "zero": false}, "axis": null},
            "y": {"datum": 0, "type": "quantitative", "scale": {"domain": [0, 1, 14], "range": [0, 59, 457], "nice": false, "zero": false}, "axis": null},
            "text": {"field": "t"}
          }
        },
        {
          "data": {"name": "cells"},
          "transform": [{"filter": "datum.row >= 1 && datum.col == 1"}],
          "mark": {"type": "text", "font": "Liberation Serif", "fontSize": 22.5, "color": "#111111", "align": "left", "baseline": "middle", "dx": 7, "dy": 17},
          "encoding": {
            "x": {"datum": 0, "type": "quantitative", "scale": {"domain": [0, 5], "range": [-9, 941], "nice": false, "zero": false}, "axis": null},
            "y": {"field": "row", "type": "quantitative", "scale": {"domain": [0, 1, 14], "range": [0, 59, 457], "nice": false, "zero": false}, "axis": null},
            "text": {"field": "t"}
          }
        },
        {
          "data": {"name": "cells"},
          "transform": [{"filter": "datum.row >= 1 && datum.col >= 2"}],
          "mark": {"type": "text", "font": "Liberation Serif", "fontSize": 22.5, "color": "#111111", "align": "right", "baseline": "middle", "dx": -7, "dy": 17},
          "encoding": {
            "x": {"field": "col", "type": "quantitative", "scale": {"domain": [1, 2, 3, 4, 5], "range": [190, 356, 611, 776, 941], "nice": false, "zero": false}, "axis": null},
            "y": {"field": "row", "type": "quantitative", "scale": {"domain": [0, 1, 14], "range": [0, 59, 457], "nice": false, "zero": false}, "axis": null},
            "text": {"field": "t"}
          }
        }
      ]
    },
    {
      "width": 940,
      "height": 298,
      "view": {"stroke": "#a0a0a0", "strokeWidth": 2},
      "title": {
        "text": ["Wykres 4. Obrazuje zależność pomiędzy zmienną opisującą powierzchnię mieszkania, a logarytmem ceny", "metra kwadratowego. Źródło: Opracowanie własne."],
        "orient": "bottom", "anchor": "start", "frame": "group", "offset": 31, "dx": 19,
        "font": "Lato", "fontStyle": "italic", "fontWeight": "normal", "fontSize": 20, "lineHeight": 25, "color": "#111111"
      },
      "layer": [
        {
          "data": {"name": "chart1"},
          "mark": {"type": "point", "shape": "diamond", "filled": true, "color": "#a69cc6", "opacity": 1, "size": 360},
          "encoding": {
            "x": {"field": "powm2", "type": "quantitative",
              "scale": {"domain": [0, 150], "range": [58, 891], "nice": false, "zero": false},
              "axis": {"orient": "bottom", "offset": -56, "values": [0, 10, 20, 30, 40, 50, 60, 70, 80, 90, 100, 110, 120, 130, 140, 150],
                "labelExpr": "replace(format(datum.value, '.2f'), '.', ',')", "grid": false,
                "domainColor": "#8c8c8c", "tickColor": "#8c8c8c", "tickSize": 5,
                "labelFont": "Lato", "labelFontSize": 18, "labelColor": "#1a1a1a", "labelPadding": 18,
                "labelOverlap": false, "labelBound": false, "labelFlush": false, "title": null}},
            "y": {"field": "ln_cena_m2", "type": "quantitative",
              "scale": {"domain": [8.5, 10], "range": [242, 51], "nice": false, "zero": false},
              "axis": {"orient": "left", "offset": -58, "values": [8.5, 9, 9.5, 10],
                "labelExpr": "replace(toString(datum.value), '.', ',')", "grid": true, "gridColor": "#b4b4b4",
                "domainColor": "#8c8c8c", "tickColor": "#8c8c8c", "tickSize": 8,
                "labelFont": "Lato", "labelFontSize": 18, "labelColor": "#1a1a1a", "labelPadding": 11,
                "labelOverlap": false, "labelBound": false, "labelFlush": false, "title": null}}
          }
        },
        {
          "data": {"name": "trend1"},
          "mark": {"type": "line", "color": "#000000", "strokeWidth": 1.5},
          "encoding": {
            "x": {"field": "powm2", "type": "quantitative"},
            "y": {"field": "ln_cena_m2", "type": "quantitative"}
          }
        },
        {
          "data": {"values": [{"t": "Zależność\u00a0 między powierzchnią a logarytmem ceny m^2"}]},
          "mark": {"type": "text", "font": "Lato", "fontWeight": "bold", "fontSize": 26.5, "color": "#000000", "align": "center", "baseline": "middle"},
          "encoding": {
            "x": {"datum": 74.0, "type": "quantitative"},
            "y": {"datum": 10.165, "type": "quantitative"},
            "text": {"field": "t"}
          }
        },
        {
          "data": {"values": [{"label": "ln_cena_m2"}]},
          "mark": {"type": "rect", "fill": "white"},
          "encoding": {
            "x": {"datum": 11.0, "type": "quantitative"},
            "x2": {"datum": 35.1},
            "y": {"datum": 9.94, "type": "quantitative"},
            "y2": {"datum": 10.025}
          }
        },
        {
          "data": {"values": [{"label": "ln_cena_m2"}]},
          "mark": {"type": "point", "shape": "diamond", "filled": true, "color": "#a69cc6", "opacity": 1, "size": 200},
          "encoding": {
            "x": {"datum": 11.5, "type": "quantitative"},
            "y": {"datum": 9.968, "type": "quantitative"}
          }
        },
        {
          "data": {"values": [{"label": "ln_cena_m2"}]},
          "mark": {"type": "text", "font": "Lato", "fontSize": 17.5, "color": "#111111", "align": "left", "baseline": "middle"},
          "encoding": {
            "x": {"datum": 16.1, "type": "quantitative"},
            "y": {"datum": 9.965, "type": "quantitative"},
            "text": {"field": "label"}
          }
        }
      ]
    },
    {
      "width": 939,
      "height": 280,
      "view": {"stroke": "#a0a0a0", "strokeWidth": 2},
      "title": {
        "text": ["Wykres 5. Obrazuje zależność pomiędzy zmienną opisującą liczbę pokoi w mieszkaniu, a logarytmem ceny metra", "kwadratowego. Źródło: Opracowanie własne."],
        "orient": "bottom", "anchor": "start", "frame": "group", "offset": 46, "dx": 19,
        "font": "Lato", "fontStyle": "italic", "fontWeight": "normal", "fontSize": 18.3, "lineHeight": 23, "color": "#111111"
      },
      "layer": [
        {
          "data": {"name": "chart2"},
          "mark": {"type": "point", "shape": "diamond", "filled": true, "color": "#a69cc6", "opacity": 1, "size": 360},
          "encoding": {
            "x": {"field": "l_pokoi", "type": "quantitative",
              "scale": {"domain": [0, 6], "range": [69, 651], "nice": false, "zero": false},
              "axis": {"orient": "bottom", "offset": -58, "values": [0, 1, 2, 3, 4, 5, 6], "format": "d", "grid": false,
                "domainColor": "#8c8c8c", "tickColor": "#8c8c8c", "tickSize": 7,
                "labelFont": "Lato", "labelFontSize": 18, "labelColor": "#1a1a1a", "labelPadding": 18,
                "labelOverlap": false, "labelBound": false, "labelFlush": false, "title": null}},
            "y": {"field": "ln_cena_m2", "type": "quantitative",
              "scale": {"domain": [8.5, 10], "range": [222, 19], "nice": false, "zero": false},
              "axis": {"orient": "left", "offset": -69, "values": [8.5, 8.75, 9, 9.25, 9.5, 9.75, 10],
                "labelExpr": "replace(toString(datum.value), '.', ',')", "grid": true, "gridColor": "#b4b4b4",
                "domainColor": "#8c8c8c", "tickColor": "#8c8c8c", "tickSize": 6,
                "labelFont": "Lato", "labelFontSize": 18, "labelColor": "#1a1a1a", "labelPadding": 14,
                "labelOverlap": false, "labelBound": false, "labelFlush": false, "title": null}}
          }
        },
        {
          "data": {"name": "trend2"},
          "mark": {"type": "line", "color": "#000000", "strokeWidth": 1.5},
          "encoding": {
            "x": {"field": "l_pokoi", "type": "quantitative"},
            "y": {"field": "ln_cena_m2", "type": "quantitative"}
          }
        },
        {
          "data": {"values": [{"t": "Zależność\u00a0 między liczbą pokoi a logarytmem ceny m^2"}]},
          "mark": {"type": "text", "font": "Lato", "fontWeight": "bold", "fontSize": 26.5, "color": "#000000", "align": "center", "baseline": "middle"},
          "encoding": {
            "x": {"datum": 4.124, "type": "quantitative"},
            "y": {"datum": 9.89, "type": "quantitative"},
            "text": {"field": "t"}
          }
        },
        {
          "data": {"values": [{"label": "ln_cena_m2"}]},
          "mark": {"type": "point", "shape": "diamond", "filled": true, "color": "#a69cc6", "opacity": 1, "size": 260},
          "encoding": {
            "x": {"datum": 6.598, "type": "quantitative"},
            "y": {"datum": 9.037, "type": "quantitative"}
          }
        },
        {
          "data": {"values": [{"label": "Liniowy (ln_cena_m2)"}]},
          "mark": {"type": "rule", "color": "#000000", "strokeWidth": 1.5},
          "encoding": {
            "x": {"datum": 6.392, "type": "quantitative"},
            "x2": {"datum": 6.794},
            "y": {"datum": 8.765, "type": "quantitative"}
          }
        },
        {
          "data": {"values": [{"label": "ln_cena_m2", "v": 9.037}, {"label": "Liniowy (ln_cena_m2)", "v": 8.765}]},
          "mark": {"type": "text", "font": "Lato", "fontSize": 18.5, "color": "#111111", "align": "left", "baseline": "middle"},
          "encoding": {
            "x": {"datum": 6.845, "type": "quantitative"},
            "y": {"field": "v", "type": "quantitative"},
            "text": {"field": "label"}
          }
        }
      ]
    },
    {
      "width": 932,
      "height": 60,
      "data": {"values": [{"page": "14"}]},
      "mark": {"type": "text", "font": "Lato", "fontSize": 21, "color": "#111111", "baseline": "middle", "dy": 43},
      "encoding": {"text": {"field": "page"}}
    }
  ]
}
